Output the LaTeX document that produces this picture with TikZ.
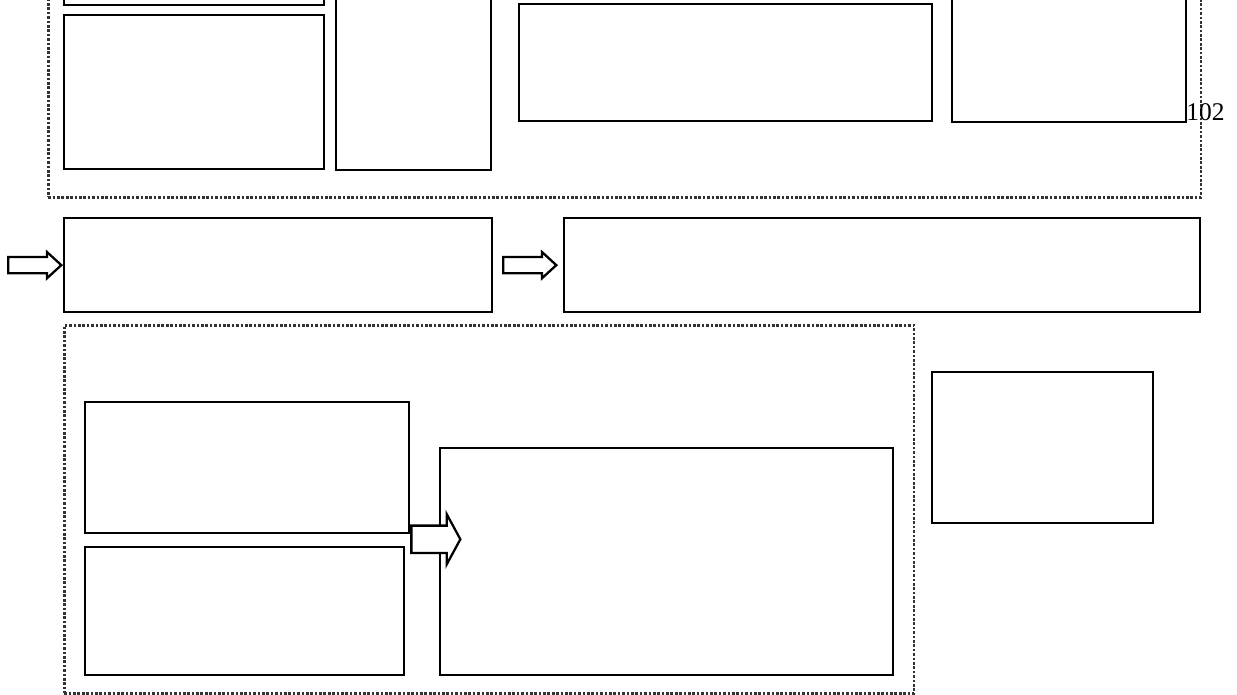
\documentclass[tikz,border=0pt]{standalone}
\usepackage{fontspec}
\setmainfont{Liberation Serif}
\usetikzlibrary{shapes.arrows}

\begin{document}
\begin{tikzpicture}[x=0.02cm, y=-0.02cm,
  blk/.style={draw, line width=1.3pt, fill=white, inner sep=0pt, anchor=north west},
  frm/.style={draw=black!80, densely dotted, line width=1.5pt, inner sep=0pt, anchor=north west},
  barr/.style={single arrow, draw, line width=1.3pt, fill=white,
               inner xsep=0pt, inner ysep=0.14cm, single arrow head extend=0.1cm,
               single arrow tip angle=85},
  bigarr/.style={barr, inner ysep=0.25cm, single arrow head extend=0.23cm,
                 single arrow tip angle=123}
]
\clip (0,0) rectangle (1237,694);
% dotted frames
\node[frm, minimum width=23.06cm, minimum height=4.32cm] (top) at (47,-20) {};
\node[frm, minimum width=17cm, minimum height=7.36cm]    (bot) at (63,324) {};
% upper group
\node[blk, minimum width=5.2cm,  minimum height=1.5cm]  (A) at (63,-71) {};
\node[blk, minimum width=5.2cm,  minimum height=3.08cm] (B) at (63,14) {};
\node[blk, minimum width=3.1cm,  minimum height=4.2cm]  (C) at (335,-41) {};
\node[blk, minimum width=8.26cm, minimum height=2.34cm] (D) at (518,3) {};
\node[blk, minimum width=4.68cm, minimum height=3.2cm]  (E) at (951,-39) {};
% middle row
\node[blk, minimum width=8.56cm,  minimum height=1.88cm] (F) at (63,217) {};
\node[blk, minimum width=12.72cm, minimum height=1.88cm] (G) at (563,217) {};
% lower group
\node[blk, minimum width=6.48cm, minimum height=2.62cm] (H) at (84,401) {};
\node[blk, minimum width=6.38cm, minimum height=2.56cm] (I) at (84,546) {};
\node[blk, minimum width=9.06cm, minimum height=4.54cm] (J) at (439,447) {};
\node[blk, minimum width=4.42cm, minimum height=3.02cm] (K) at (931,371) {};
% block arrows
\node[barr, minimum height=1.06cm, anchor=tip] (a1) at (F.west) {};
\node[barr, minimum height=1.06cm, anchor=tip] (a2) at ([xshift=-0.1cm]G.west) {};
\node[bigarr, minimum height=0.98cm, anchor=tail] (a3) at ([yshift=-0.1cm]H.south east) {};
% page number
\node[anchor=base west, inner sep=0pt, font=\fontsize{14.5}{17}\selectfont] (pg) at (1186,120) {102};
\end{tikzpicture}
\end{document}
